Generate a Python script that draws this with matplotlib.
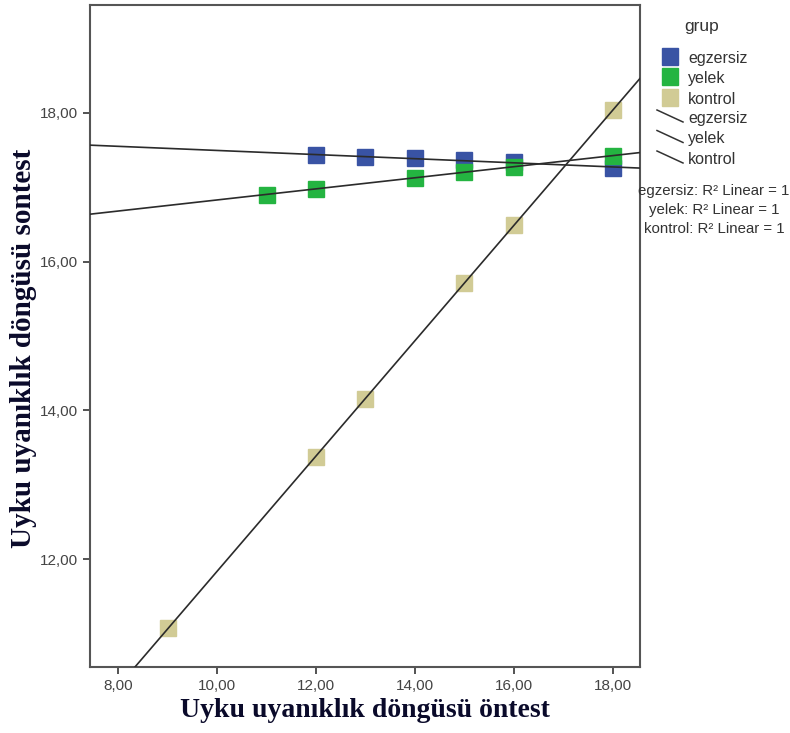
import numpy as np
import matplotlib.pyplot as plt
from matplotlib.lines import Line2D
from matplotlib.patches import Rectangle

# pretest / posttest values per group
egzersiz_x = [12, 13, 14, 15, 16, 18]
egzersiz_y = [17.43, 17.41, 17.39, 17.37, 17.34, 17.26]
yelek_x = [11, 12, 14, 15, 16, 18]
yelek_y = [16.90, 16.98, 17.13, 17.21, 17.28, 17.42]
kontrol_x = [9, 12, 13, 15, 16, 18]
kontrol_y = [11.07, 13.38, 14.16, 15.71, 16.49, 18.04]

groups = ['egzersiz', 'yelek', 'kontrol']
colors = ['#3953a4', '#24b441', '#d1cb95']
xticks = [8, 10, 12, 14, 16, 18]
yticks = [12, 14, 16, 18]

plt.rcParams['font.family'] = ['Liberation Sans', 'DejaVu Sans']

fig = plt.figure(figsize=(7.9, 7.33), dpi=100)
ax = fig.add_axes([0.114, 0.090, 0.696, 0.903])

xlim = (7.43, 18.55)
ylim = (10.55, 19.45)
data = [(egzersiz_x, egzersiz_y), (yelek_x, yelek_y), (kontrol_x, kontrol_y)]
for (xs, ys), c in zip(data, colors):
    ax.plot(xs, ys, 's', ms=11.5, color=c, mec=c, zorder=2)
    # linear fit drawn across the whole axis
    m, b = np.polyfit(xs, ys, 1)
    xx = np.array(xlim)
    ax.plot(xx, m * xx + b, color='#2b2b2b', lw=1.2, zorder=3)

ax.set_xlim(*xlim)
ax.set_ylim(*ylim)
ax.set_xticks(xticks)
ax.set_yticks(yticks)
ax.set_xticklabels([f'{t:.2f}'.replace('.', ',') for t in xticks])
ax.set_yticklabels([f'{t:.2f}'.replace('.', ',') for t in yticks])
ax.tick_params(direction='out', length=5, width=1.3, color='#444444',
               labelsize=11, labelcolor='#444444')
for s in ax.spines.values():
    s.set_color('#555555')
    s.set_linewidth(1.5)

ax.set_xlabel('Uyku uyanıklık döngüsü öntest', family='Liberation Serif',
              fontweight='bold', fontsize=20, color='#0a0a2a', labelpad=4)
ax.set_ylabel('Uyku uyanıklık döngüsü sontest', family='Liberation Serif',
              fontweight='bold', fontsize=21, color='#0a0a2a')
ax.yaxis.set_label_coords(-0.096, 0.482)

# legend drawn by hand on the right side
W, H = 790, 733
def fx(px):
    return px / W
def fy(py):
    return 1 - py / H

fig.text(fx(684), fy(27), 'grup', fontsize=12.5, color='#333333', va='center')
for i, (g, c) in enumerate(zip(groups, colors)):
    y = 56 + i * 20.5
    fig.patches.append(Rectangle((fx(662), fy(y + 8.5)), fx(16), 17 / H,
                                 color=c, transform=fig.transFigure))
    fig.text(fx(688), fy(y + 2), g, fontsize=11.5, color='#333333', va='center')
for i, g in enumerate(groups):
    y = 118 + i * 20.5
    fig.lines.append(Line2D([fx(657), fx(683)], [fy(y - 8), fy(y + 4)],
                            color='#333333', lw=1.1, transform=fig.transFigure))
    fig.text(fx(688), fy(y), g, fontsize=11.5, color='#333333', va='center')
for i, g in enumerate(groups):
    fig.text(fx(714), fy(191 + i * 19), f'{g}: R² Linear = 1',
             fontsize=10.8, color='#333333', va='center', ha='center')

fig.savefig('out.png', dpi=100)
